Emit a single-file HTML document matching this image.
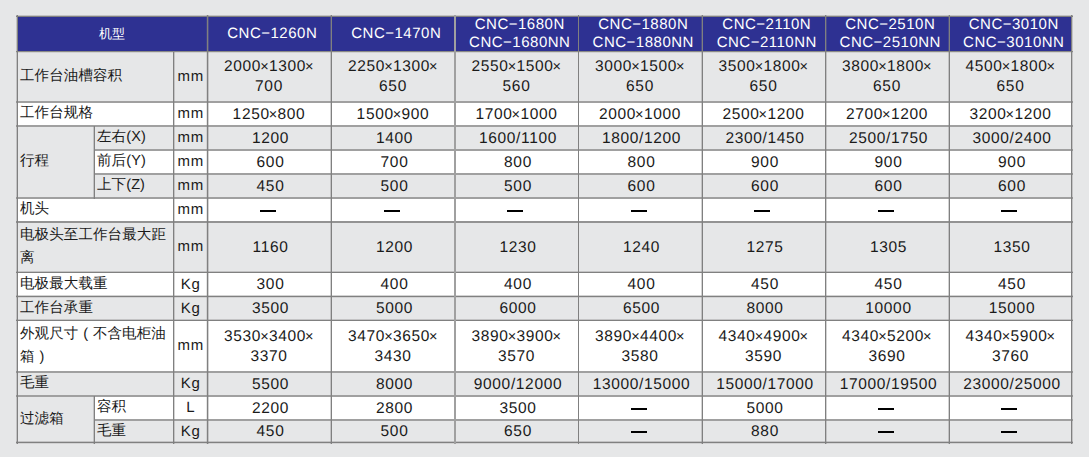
<!DOCTYPE html>
<html><head><meta charset="utf-8"><title>CNC</title>
<style>
html,body{margin:0;padding:0;}
body{width:1089px;height:457px;overflow:hidden;background:#e6e7e8;position:relative;font-family:"Liberation Sans",sans-serif;text-rendering:geometricPrecision;}
body>div{position:absolute;box-sizing:border-box;}
.c{display:flex;align-items:center;color:#1a1a1a;white-space:nowrap;}
.hz{justify-content:center;color:#fff;font-size:13px;}
.hd{justify-content:center;text-align:center;color:#fff;font-size:15px;letter-spacing:0.5px;line-height:17.5px;padding:0 0 0 6.5px;}
.c>div{position:relative;}
.hd>div{top:0px;}
.d>div{top:1px;}
.u>div{top:0px;}
.lb>div{top:0px;}
.hz>div{top:0px;}
.d{justify-content:center;text-align:center;font-size:15.5px;letter-spacing:0.65px;line-height:20px;padding-left:3px;}
.x{font-size:14.5px;letter-spacing:0;margin:0 0.4px 0 -1px;}
.dx{padding-left:0;}
.u{justify-content:center;font-size:15px;letter-spacing:0.8px;padding:0 0 0 1.5px;}
.lb{padding:0 0 0 3px;font-size:14.5px;line-height:23px;letter-spacing:0.1px;}
.p{display:inline-block;width:14.5px;text-align:center;}
.dash{display:block;width:16px;height:2px;background:#000;position:relative;left:-3px;}
</style></head><body>
<div style="left:17px;top:51px;width:1055px;height:50.5px;background:#e6e7e8"></div>
<div style="left:17px;top:101.5px;width:1055px;height:24.0px;background:#ffffff"></div>
<div style="left:17px;top:125.5px;width:1055px;height:24.0px;background:#e6e7e8"></div>
<div style="left:17px;top:149.5px;width:1055px;height:24.0px;background:#ffffff"></div>
<div style="left:17px;top:173.5px;width:1055px;height:24.0px;background:#e6e7e8"></div>
<div style="left:17px;top:197.5px;width:1055px;height:24.0px;background:#ffffff"></div>
<div style="left:17px;top:221.5px;width:1055px;height:50.5px;background:#e6e7e8"></div>
<div style="left:17px;top:272px;width:1055px;height:24px;background:#ffffff"></div>
<div style="left:17px;top:296px;width:1055px;height:24px;background:#e6e7e8"></div>
<div style="left:17px;top:320px;width:1055px;height:51.5px;background:#ffffff"></div>
<div style="left:17px;top:371.5px;width:1055px;height:24.0px;background:#e6e7e8"></div>
<div style="left:17px;top:395.5px;width:1055px;height:24.5px;background:#ffffff"></div>
<div style="left:17px;top:420px;width:1055px;height:22.5px;background:#e6e7e8"></div>
<div style="left:17px;top:125.5px;width:77px;height:72.0px;background:#e6e7e8"></div>
<div style="left:17px;top:395.5px;width:77px;height:47.0px;background:#e6e7e8"></div>
<div style="left:17px;top:16px;width:1055px;height:35px;background:#2e3192"></div>
<div style="left:16px;top:15px;width:1057px;height:1px;background:rgba(128,128,128,0.35)"></div>
<div style="left:16px;top:16px;width:1057px;height:1px;background:#808080"></div>
<div style="left:16px;top:51px;width:1057px;height:1px;background:#8a8a86"></div>
<div style="left:16px;top:52px;width:1057px;height:1px;background:rgba(128,128,128,0.2)"></div>
<div style="left:16px;top:101px;width:1057px;height:1px;background:#a0a0a0"></div>
<div style="left:16px;top:102px;width:1057px;height:1px;background:#a0a0a0"></div>
<div style="left:16px;top:125px;width:1057px;height:1px;background:#a0a0a0"></div>
<div style="left:16px;top:126px;width:1057px;height:1px;background:#a0a0a0"></div>
<div style="left:94px;top:149px;width:979px;height:1px;background:#a0a0a0"></div>
<div style="left:94px;top:150px;width:979px;height:1px;background:#a0a0a0"></div>
<div style="left:94px;top:173px;width:979px;height:1px;background:#a0a0a0"></div>
<div style="left:94px;top:174px;width:979px;height:1px;background:#a0a0a0"></div>
<div style="left:16px;top:197px;width:1057px;height:1px;background:#a0a0a0"></div>
<div style="left:16px;top:198px;width:1057px;height:1px;background:#a0a0a0"></div>
<div style="left:16px;top:221px;width:1057px;height:1px;background:#939393"></div>
<div style="left:16px;top:222px;width:1057px;height:1px;background:#939393"></div>
<div style="left:16px;top:271px;width:1057px;height:1px;background:rgba(128,128,128,0.35)"></div>
<div style="left:16px;top:272px;width:1057px;height:1px;background:#808080"></div>
<div style="left:16px;top:295px;width:1057px;height:1px;background:rgba(128,128,128,0.35)"></div>
<div style="left:16px;top:296px;width:1057px;height:1px;background:#808080"></div>
<div style="left:16px;top:297px;width:1057px;height:1px;background:rgba(128,128,128,0.2)"></div>
<div style="left:16px;top:319px;width:1057px;height:1px;background:rgba(128,128,128,0.35)"></div>
<div style="left:16px;top:320px;width:1057px;height:1px;background:#808080"></div>
<div style="left:16px;top:371px;width:1057px;height:1px;background:#a0a0a0"></div>
<div style="left:16px;top:372px;width:1057px;height:1px;background:#a0a0a0"></div>
<div style="left:16px;top:395px;width:1057px;height:1px;background:#a0a0a0"></div>
<div style="left:16px;top:396px;width:1057px;height:1px;background:#a0a0a0"></div>
<div style="left:94px;top:419px;width:979px;height:1px;background:#a0a0a0"></div>
<div style="left:94px;top:420px;width:979px;height:1px;background:#a0a0a0"></div>
<div style="left:16px;top:441px;width:1057px;height:1px;background:rgba(128,128,128,0.35)"></div>
<div style="left:16px;top:442px;width:1057px;height:1px;background:#808080"></div>
<div style="left:16px;top:443px;width:1057px;height:1px;background:rgba(128,128,128,0.2)"></div>
<div style="left:16px;top:15px;width:1px;height:429px;background:rgba(128,128,128,0.35)"></div>
<div style="left:17px;top:15px;width:1px;height:429px;background:#808080"></div>
<div style="left:93px;top:126px;width:1px;height:73px;background:rgba(128,128,128,0.35)"></div>
<div style="left:94px;top:126px;width:1px;height:73px;background:#808080"></div>
<div style="left:93px;top:396px;width:1px;height:48px;background:rgba(128,128,128,0.35)"></div>
<div style="left:94px;top:396px;width:1px;height:48px;background:#808080"></div>
<div style="left:173px;top:52px;width:1px;height:392px;background:#808080"></div>
<div style="left:174px;top:52px;width:1px;height:392px;background:rgba(128,128,128,0.35)"></div>
<div style="left:206px;top:15px;width:1px;height:429px;background:rgba(128,128,128,0.2)"></div>
<div style="left:207px;top:15px;width:1px;height:429px;background:#808080"></div>
<div style="left:208px;top:15px;width:1px;height:429px;background:rgba(128,128,128,0.35)"></div>
<div style="left:330px;top:15px;width:1px;height:429px;background:rgba(128,128,128,0.35)"></div>
<div style="left:331px;top:15px;width:1px;height:429px;background:#808080"></div>
<div style="left:454px;top:15px;width:1px;height:429px;background:#a0a0a0"></div>
<div style="left:455px;top:15px;width:1px;height:429px;background:#a0a0a0"></div>
<div style="left:578px;top:15px;width:1px;height:429px;background:#808080"></div>
<div style="left:701px;top:15px;width:1px;height:429px;background:rgba(128,128,128,0.35)"></div>
<div style="left:702px;top:15px;width:1px;height:429px;background:#808080"></div>
<div style="left:825px;top:15px;width:1px;height:429px;background:#808080"></div>
<div style="left:826px;top:15px;width:1px;height:429px;background:rgba(128,128,128,0.35)"></div>
<div style="left:948px;top:15px;width:1px;height:429px;background:rgba(128,128,128,0.35)"></div>
<div style="left:949px;top:15px;width:1px;height:429px;background:#808080"></div>
<div style="left:1071px;top:15px;width:1px;height:429px;background:#808080"></div>
<div style="left:1072px;top:15px;width:1px;height:429px;background:rgba(128,128,128,0.35)"></div>
<div class="c hz" style="left:17px;top:16px;width:190px;height:35px"><div>机型</div></div>
<div class="c hd" style="left:207px;top:16px;width:124px;height:35px"><div>CNC−1260N</div></div>
<div class="c hd" style="left:331px;top:16px;width:124px;height:35px"><div>CNC−1470N</div></div>
<div class="c hd" style="left:455px;top:16px;width:123px;height:35px"><div>CNC−1680N<br>CNC−1680NN</div></div>
<div class="c hd" style="left:578px;top:16px;width:124px;height:35px"><div>CNC−1880N<br>CNC−1880NN</div></div>
<div class="c hd" style="left:702px;top:16px;width:123px;height:35px"><div>CNC−2110N<br>CNC−2110NN</div></div>
<div class="c hd" style="left:825px;top:16px;width:124px;height:35px"><div>CNC−2510N<br>CNC−2510NN</div></div>
<div class="c hd" style="left:949px;top:16px;width:123px;height:35px"><div>CNC−3010N<br>CNC−3010NN</div></div>
<div class="c d dx" style="left:207px;top:51px;width:124px;height:50.5px"><div>2000<span class="x">×</span>1300<span class="x">×</span><br>700</div></div>
<div class="c d dx" style="left:331px;top:51px;width:124px;height:50.5px"><div>2250<span class="x">×</span>1300<span class="x">×</span><br>650</div></div>
<div class="c d dx" style="left:455px;top:51px;width:123px;height:50.5px"><div>2550<span class="x">×</span>1500<span class="x">×</span><br>560</div></div>
<div class="c d dx" style="left:578px;top:51px;width:124px;height:50.5px"><div>3000<span class="x">×</span>1500<span class="x">×</span><br>650</div></div>
<div class="c d dx" style="left:702px;top:51px;width:123px;height:50.5px"><div>3500<span class="x">×</span>1800<span class="x">×</span><br>650</div></div>
<div class="c d dx" style="left:825px;top:51px;width:124px;height:50.5px"><div>3800<span class="x">×</span>1800<span class="x">×</span><br>650</div></div>
<div class="c d dx" style="left:949px;top:51px;width:123px;height:50.5px"><div>4500<span class="x">×</span>1800<span class="x">×</span><br>650</div></div>
<div class="c u" style="left:173px;top:51px;width:34px;height:50.5px"><div>mm</div></div>
<div class="c d dx" style="left:207px;top:101.5px;width:124px;height:24.0px"><div>1250<span class="x">×</span>800</div></div>
<div class="c d dx" style="left:331px;top:101.5px;width:124px;height:24.0px"><div>1500<span class="x">×</span>900</div></div>
<div class="c d dx" style="left:455px;top:101.5px;width:123px;height:24.0px"><div>1700<span class="x">×</span>1000</div></div>
<div class="c d dx" style="left:578px;top:101.5px;width:124px;height:24.0px"><div>2000<span class="x">×</span>1000</div></div>
<div class="c d dx" style="left:702px;top:101.5px;width:123px;height:24.0px"><div>2500<span class="x">×</span>1200</div></div>
<div class="c d dx" style="left:825px;top:101.5px;width:124px;height:24.0px"><div>2700<span class="x">×</span>1200</div></div>
<div class="c d dx" style="left:949px;top:101.5px;width:123px;height:24.0px"><div>3200<span class="x">×</span>1200</div></div>
<div class="c u" style="left:173px;top:101.5px;width:34px;height:24.0px"><div>mm</div></div>
<div class="c d" style="left:207px;top:125.5px;width:124px;height:24.0px"><div>1200</div></div>
<div class="c d" style="left:331px;top:125.5px;width:124px;height:24.0px"><div>1400</div></div>
<div class="c d" style="left:455px;top:125.5px;width:123px;height:24.0px"><div>1600/1100</div></div>
<div class="c d" style="left:578px;top:125.5px;width:124px;height:24.0px"><div>1800/1200</div></div>
<div class="c d" style="left:702px;top:125.5px;width:123px;height:24.0px"><div>2300/1450</div></div>
<div class="c d" style="left:825px;top:125.5px;width:124px;height:24.0px"><div>2500/1750</div></div>
<div class="c d" style="left:949px;top:125.5px;width:123px;height:24.0px"><div>3000/2400</div></div>
<div class="c u" style="left:173px;top:125.5px;width:34px;height:24.0px"><div>mm</div></div>
<div class="c d" style="left:207px;top:149.5px;width:124px;height:24.0px"><div>600</div></div>
<div class="c d" style="left:331px;top:149.5px;width:124px;height:24.0px"><div>700</div></div>
<div class="c d" style="left:455px;top:149.5px;width:123px;height:24.0px"><div>800</div></div>
<div class="c d" style="left:578px;top:149.5px;width:124px;height:24.0px"><div>800</div></div>
<div class="c d" style="left:702px;top:149.5px;width:123px;height:24.0px"><div>900</div></div>
<div class="c d" style="left:825px;top:149.5px;width:124px;height:24.0px"><div>900</div></div>
<div class="c d" style="left:949px;top:149.5px;width:123px;height:24.0px"><div>900</div></div>
<div class="c u" style="left:173px;top:149.5px;width:34px;height:24.0px"><div>mm</div></div>
<div class="c d" style="left:207px;top:173.5px;width:124px;height:24.0px"><div>450</div></div>
<div class="c d" style="left:331px;top:173.5px;width:124px;height:24.0px"><div>500</div></div>
<div class="c d" style="left:455px;top:173.5px;width:123px;height:24.0px"><div>500</div></div>
<div class="c d" style="left:578px;top:173.5px;width:124px;height:24.0px"><div>600</div></div>
<div class="c d" style="left:702px;top:173.5px;width:123px;height:24.0px"><div>600</div></div>
<div class="c d" style="left:825px;top:173.5px;width:124px;height:24.0px"><div>600</div></div>
<div class="c d" style="left:949px;top:173.5px;width:123px;height:24.0px"><div>600</div></div>
<div class="c u" style="left:173px;top:173.5px;width:34px;height:24.0px"><div>mm</div></div>
<div class="c d" style="left:207px;top:197.5px;width:124px;height:24.0px"><div><span class="dash"></span></div></div>
<div class="c d" style="left:331px;top:197.5px;width:124px;height:24.0px"><div><span class="dash"></span></div></div>
<div class="c d" style="left:455px;top:197.5px;width:123px;height:24.0px"><div><span class="dash"></span></div></div>
<div class="c d" style="left:578px;top:197.5px;width:124px;height:24.0px"><div><span class="dash"></span></div></div>
<div class="c d" style="left:702px;top:197.5px;width:123px;height:24.0px"><div><span class="dash"></span></div></div>
<div class="c d" style="left:825px;top:197.5px;width:124px;height:24.0px"><div><span class="dash"></span></div></div>
<div class="c d" style="left:949px;top:197.5px;width:123px;height:24.0px"><div><span class="dash"></span></div></div>
<div class="c u" style="left:173px;top:197.5px;width:34px;height:24.0px"><div>mm</div></div>
<div class="c d" style="left:207px;top:221.5px;width:124px;height:50.5px"><div>1160</div></div>
<div class="c d" style="left:331px;top:221.5px;width:124px;height:50.5px"><div>1200</div></div>
<div class="c d" style="left:455px;top:221.5px;width:123px;height:50.5px"><div>1230</div></div>
<div class="c d" style="left:578px;top:221.5px;width:124px;height:50.5px"><div>1240</div></div>
<div class="c d" style="left:702px;top:221.5px;width:123px;height:50.5px"><div>1275</div></div>
<div class="c d" style="left:825px;top:221.5px;width:124px;height:50.5px"><div>1305</div></div>
<div class="c d" style="left:949px;top:221.5px;width:123px;height:50.5px"><div>1350</div></div>
<div class="c u" style="left:173px;top:221.5px;width:34px;height:50.5px"><div>mm</div></div>
<div class="c d" style="left:207px;top:272px;width:124px;height:24px"><div>300</div></div>
<div class="c d" style="left:331px;top:272px;width:124px;height:24px"><div>400</div></div>
<div class="c d" style="left:455px;top:272px;width:123px;height:24px"><div>400</div></div>
<div class="c d" style="left:578px;top:272px;width:124px;height:24px"><div>400</div></div>
<div class="c d" style="left:702px;top:272px;width:123px;height:24px"><div>450</div></div>
<div class="c d" style="left:825px;top:272px;width:124px;height:24px"><div>450</div></div>
<div class="c d" style="left:949px;top:272px;width:123px;height:24px"><div>450</div></div>
<div class="c u" style="left:173px;top:272px;width:34px;height:24px"><div>Kg</div></div>
<div class="c d" style="left:207px;top:296px;width:124px;height:24px"><div>3500</div></div>
<div class="c d" style="left:331px;top:296px;width:124px;height:24px"><div>5000</div></div>
<div class="c d" style="left:455px;top:296px;width:123px;height:24px"><div>6000</div></div>
<div class="c d" style="left:578px;top:296px;width:124px;height:24px"><div>6500</div></div>
<div class="c d" style="left:702px;top:296px;width:123px;height:24px"><div>8000</div></div>
<div class="c d" style="left:825px;top:296px;width:124px;height:24px"><div>10000</div></div>
<div class="c d" style="left:949px;top:296px;width:123px;height:24px"><div>15000</div></div>
<div class="c u" style="left:173px;top:296px;width:34px;height:24px"><div>Kg</div></div>
<div class="c d dx" style="left:207px;top:320px;width:124px;height:51.5px"><div>3530<span class="x">×</span>3400<span class="x">×</span><br>3370</div></div>
<div class="c d dx" style="left:331px;top:320px;width:124px;height:51.5px"><div>3470<span class="x">×</span>3650<span class="x">×</span><br>3430</div></div>
<div class="c d dx" style="left:455px;top:320px;width:123px;height:51.5px"><div>3890<span class="x">×</span>3900<span class="x">×</span><br>3570</div></div>
<div class="c d dx" style="left:578px;top:320px;width:124px;height:51.5px"><div>3890<span class="x">×</span>4400<span class="x">×</span><br>3580</div></div>
<div class="c d dx" style="left:702px;top:320px;width:123px;height:51.5px"><div>4340<span class="x">×</span>4900<span class="x">×</span><br>3590</div></div>
<div class="c d dx" style="left:825px;top:320px;width:124px;height:51.5px"><div>4340<span class="x">×</span>5200<span class="x">×</span><br>3690</div></div>
<div class="c d dx" style="left:949px;top:320px;width:123px;height:51.5px"><div>4340<span class="x">×</span>5900<span class="x">×</span><br>3760</div></div>
<div class="c u" style="left:173px;top:320px;width:34px;height:51.5px"><div>mm</div></div>
<div class="c d" style="left:207px;top:371.5px;width:124px;height:24.0px"><div>5500</div></div>
<div class="c d" style="left:331px;top:371.5px;width:124px;height:24.0px"><div>8000</div></div>
<div class="c d" style="left:455px;top:371.5px;width:123px;height:24.0px"><div>9000/12000</div></div>
<div class="c d" style="left:578px;top:371.5px;width:124px;height:24.0px"><div>13000/15000</div></div>
<div class="c d" style="left:702px;top:371.5px;width:123px;height:24.0px"><div>15000/17000</div></div>
<div class="c d" style="left:825px;top:371.5px;width:124px;height:24.0px"><div>17000/19500</div></div>
<div class="c d" style="left:949px;top:371.5px;width:123px;height:24.0px"><div>23000/25000</div></div>
<div class="c u" style="left:173px;top:371.5px;width:34px;height:24.0px"><div>Kg</div></div>
<div class="c d" style="left:207px;top:395.5px;width:124px;height:24.5px"><div>2200</div></div>
<div class="c d" style="left:331px;top:395.5px;width:124px;height:24.5px"><div>2800</div></div>
<div class="c d" style="left:455px;top:395.5px;width:123px;height:24.5px"><div>3500</div></div>
<div class="c d" style="left:578px;top:395.5px;width:124px;height:24.5px"><div><span class="dash"></span></div></div>
<div class="c d" style="left:702px;top:395.5px;width:123px;height:24.5px"><div>5000</div></div>
<div class="c d" style="left:825px;top:395.5px;width:124px;height:24.5px"><div><span class="dash"></span></div></div>
<div class="c d" style="left:949px;top:395.5px;width:123px;height:24.5px"><div><span class="dash"></span></div></div>
<div class="c u" style="left:173px;top:395.5px;width:34px;height:24.5px"><div>L</div></div>
<div class="c d" style="left:207px;top:420px;width:124px;height:22.5px"><div>450</div></div>
<div class="c d" style="left:331px;top:420px;width:124px;height:22.5px"><div>500</div></div>
<div class="c d" style="left:455px;top:420px;width:123px;height:22.5px"><div>650</div></div>
<div class="c d" style="left:578px;top:420px;width:124px;height:22.5px"><div><span class="dash"></span></div></div>
<div class="c d" style="left:702px;top:420px;width:123px;height:22.5px"><div>880</div></div>
<div class="c d" style="left:825px;top:420px;width:124px;height:22.5px"><div><span class="dash"></span></div></div>
<div class="c d" style="left:949px;top:420px;width:123px;height:22.5px"><div><span class="dash"></span></div></div>
<div class="c u" style="left:173px;top:420px;width:34px;height:22.5px"><div>Kg</div></div>
<div class="c lb" style="left:17px;top:51px;width:156px;height:50.5px"><div>工作台油槽容积</div></div>
<div class="c lb" style="left:17px;top:101.5px;width:156px;height:24.0px"><div>工作台规格</div></div>
<div class="c lb" style="left:17px;top:125.5px;width:77px;height:72.0px"><div>行程</div></div>
<div class="c lb" style="left:94px;top:125.5px;width:79px;height:24.0px"><div>左右(X)</div></div>
<div class="c lb" style="left:94px;top:149.5px;width:79px;height:24.0px"><div>前后(Y)</div></div>
<div class="c lb" style="left:94px;top:173.5px;width:79px;height:24.0px"><div>上下(Z)</div></div>
<div class="c lb" style="left:17px;top:197.5px;width:156px;height:24.0px"><div>机头</div></div>
<div class="c lb" style="left:17px;top:221.5px;width:156px;height:50.5px"><div>电极头至工作台最大距<br>离</div></div>
<div class="c lb" style="left:17px;top:272px;width:156px;height:24px"><div>电极最大载重</div></div>
<div class="c lb" style="left:17px;top:296px;width:156px;height:24px"><div>工作台承重</div></div>
<div class="c lb" style="left:17px;top:320px;width:156px;height:51.5px"><div>外观尺寸<span class="p">(</span>不含电柜油<br>箱<span class="p">)</span></div></div>
<div class="c lb" style="left:17px;top:371.5px;width:156px;height:24.0px"><div>毛重</div></div>
<div class="c lb" style="left:17px;top:395.5px;width:77px;height:47.0px"><div>过滤箱</div></div>
<div class="c lb" style="left:94px;top:395.5px;width:79px;height:24.5px"><div>容积</div></div>
<div class="c lb" style="left:94px;top:420px;width:79px;height:22.5px"><div>毛重</div></div>
</body></html>
